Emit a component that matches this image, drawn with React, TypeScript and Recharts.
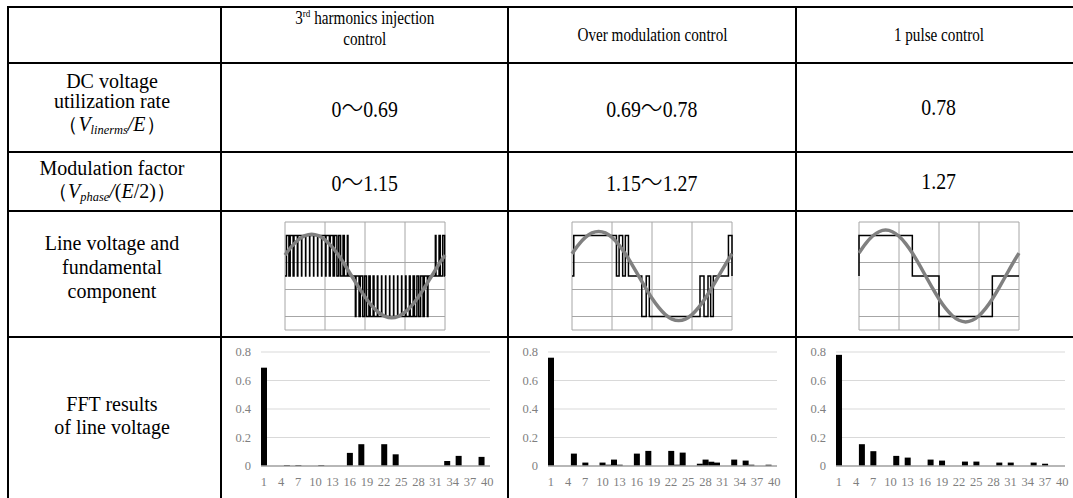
import React from 'react'
import { BarChart, Bar, LineChart, Line, XAxis, YAxis, CartesianGrid } from 'recharts'

const SERIF = '"Liberation Serif", "DejaVu Serif", "Times New Roman", Times, serif'
const CJK = '"Noto Sans CJK JP", "Noto Sans CJK SC", sans-serif'

// table texts
const DC_UTILIZATION = ['0～0.69', '0.69～0.78', '0.78']
const MODULATION_FACTOR = ['0～1.15', '1.15～1.27', '1.27']

// FFT: harmonic order 1..40
const HARMONIC_ORDERS = [
  1, 2, 3, 4, 5, 6, 7, 8, 9, 10,
  11, 12, 13, 14, 15, 16, 17, 18, 19, 20,
  21, 22, 23, 24, 25, 26, 27, 28, 29, 30,
  31, 32, 33, 34, 35, 36, 37, 38, 39, 40,
]
const FFT_THIRD = [
  0.69, 0, 0, 0, 0.007, 0, 0.007, 0, 0, 0,
  0.007, 0, 0, 0, 0, 0.092, 0, 0.153, 0, 0,
  0, 0.153, 0, 0.082, 0, 0, 0, 0, 0, 0,
  0, 0, 0.035, 0, 0.071, 0, 0, 0, 0.064, 0,
]
const FFT_OVERMOD = [
  0.76, 0, 0, 0, 0.087, 0, 0.024, 0, 0, 0.024,
  0.009, 0.045, 0.009, 0, 0, 0.087, 0, 0.106, 0, 0,
  0, 0.106, 0.009, 0.094, 0, 0, 0.016, 0.045, 0.03, 0.024,
  0, 0, 0.045, 0, 0.038, 0.009, 0, 0, 0.009, 0,
]
const FFT_ONE_PULSE = [
  0.78, 0, 0, 0, 0.153, 0, 0.104, 0, 0, 0,
  0.071, 0, 0.059, 0, 0, 0, 0.045, 0, 0.038, 0,
  0, 0, 0.031, 0, 0.031, 0, 0, 0, 0.024, 0,
  0.024, 0, 0, 0, 0.024, 0, 0.016, 0, 0, 0,
]
const FFT_TICKS = [0, 0.2, 0.4, 0.6, 0.8]

// waveforms: angle in degrees over one period
const ANGLE_TICKS = [0, 90, 180, 270, 360]
const LEVEL_TICKS = [-4, -3, -2, -1, 0, 1, 2, 3, 4]

// line voltage pulses [start, end, level]
const PULSES_THIRD = [
  [3.3, 8.8, 3], [11.7, 18.3, 3], [20.3, 27.8, 3], [28.9, 37.2, 3], [37.8, 46.3, 3],
  [46.8, 55.3, 3], [55.8, 64.3, 3], [64.8, 73.3, 3], [73.8, 82.3, 3], [82.9, 91.2, 3],
  [92.3, 99.8, 3], [101.7, 108.3, 3], [111.3, 116.8, 3], [120.9, 125.1, 3], [130.6, 133.5, 3],
  [140.3, 141.7, 3],
  [158.3, 159.7, -3], [166.6, 169.5, -3], [174.9, 179.1, -3], [183.3, 188.8, -3], [191.7, 198.3, -3],
  [200.3, 207.8, -3], [208.9, 217.2, -3], [217.8, 226.3, -3], [226.8, 235.3, -3], [235.8, 244.3, -3],
  [244.8, 253.3, -3], [253.8, 262.3, -3], [262.9, 271.2, -3], [272.3, 279.8, -3], [281.7, 288.3, -3],
  [291.3, 296.8, -3], [300.9, 305.1, -3], [310.6, 313.5, -3], [320.3, 321.7, -3],
  [338.3, 339.7, 3], [346.6, 349.5, 3], [354.9, 359.1, 3],
]
const PULSES_OVERMOD = [
  [4, 100, 3], [106, 114, 3], [120, 127, 3],
  [157, 167, -3], [174, 288, -3], [297, 306, -3], [312, 318, -3],
  [352, 360, 3],
]
const PULSES_ONE = [
  [0, 120, 3], [180, 300, -3],
]

// fundamental component, sampled every 15 deg
const SINE_ANGLES = [
  0, 15, 30, 45, 60, 75, 90, 105, 120, 135, 150, 165, 180,
  195, 210, 225, 240, 255, 270, 285, 300, 315, 330, 345, 360,
]
const SINE_THIRD = [
  1.55, 2.19, 2.68, 2.99, 3.1, 2.99, 2.68, 2.19, 1.55, 0.8, 0, -0.8, -1.55,
  -2.19, -2.68, -2.99, -3.1, -2.99, -2.68, -2.19, -1.55, -0.8, 0, 0.8, 1.55,
]
const SINE_OVERMOD = [
  1.65, 2.33, 2.86, 3.19, 3.3, 3.19, 2.86, 2.33, 1.65, 0.85, 0, -0.85, -1.65,
  -2.33, -2.86, -3.19, -3.3, -3.19, -2.86, -2.33, -1.65, -0.85, 0, 0.85, 1.65,
]
const SINE_ONE = [
  1.7, 2.4, 2.94, 3.28, 3.4, 3.28, 2.94, 2.4, 1.7, 0.88, 0, -0.88, -1.7,
  -2.4, -2.94, -3.28, -3.4, -3.28, -2.94, -2.4, -1.7, -0.88, 0, 0.88, 1.7,
]

// table geometry
const COLS = [8, 221, 508, 796, 1082]
const ROWS = [7, 63, 152, 211, 337, 495]

function toSteps(pulses: number[][]) {
  const pts = [{ t: 0, v: 0 }]
  pulses.forEach(([s, e, lvl]) => {
    pts.push({ t: s, v: 0 }, { t: s, v: lvl }, { t: e, v: lvl }, { t: e, v: 0 })
  })
  pts.push({ t: 360, v: 0 })
  return pts
}

function Cell({ col, row, children, lineHeight = 22, shift = 0, size = 20, squeeze = 1 }: any) {
  const left = COLS[col]
  const top = ROWS[row]
  return (
    <div
      style={{
        position: 'absolute',
        left,
        top,
        width: COLS[col + 1] - left,
        height: ROWS[row + 1] - top,
        display: 'flex',
        alignItems: 'center',
        justifyContent: 'center',
        textAlign: 'center',
        fontSize: size,
        lineHeight: `${lineHeight}px`,
        paddingBottom: shift,
        paddingRight: col === 0 ? 5 : 0,
        boxSizing: 'border-box',
        whiteSpace: 'nowrap',
      }}
    >
      <div style={{ transform: `scaleX(${squeeze})` }}>{children}</div>
    </div>
  )
}

// range text such as 0～0.69, the wave dash drawn from a CJK font
function Range({ text }: { text: string }) {
  const parts = text.split('～')
  if (parts.length === 1) return <>{text}</>
  return (
    <>
      {parts[0]}
      <span style={{ fontFamily: CJK, fontSize: '1.1em', fontWeight: 300 }}>～</span>
      {parts[1]}
    </>
  )
}

const subStyle: React.CSSProperties = { fontSize: '0.62em', fontStyle: 'italic', verticalAlign: '-0.25em', lineHeight: 0 }

function WaveChart({ pulses, sine, col }: any) {
  const steps = toSteps(pulses)
  const sineData = SINE_ANGLES.map((t, i) => ({ t, v: sine[i] }))
  const center = (COLS[col] + COLS[col + 1]) / 2
  return (
    <div style={{ position: 'absolute', left: Math.round(center - 80) - 2, top: 220 }}>
      <LineChart width={164} height={112} margin={{ top: 2, right: 2, bottom: 2, left: 2 }}>
        <CartesianGrid stroke="#a6a6a6" />
        <XAxis type="number" dataKey="t" domain={[0, 360]} ticks={ANGLE_TICKS} hide />
        <YAxis type="number" domain={[-4, 4]} ticks={LEVEL_TICKS} hide />
        <Line data={steps} dataKey="v" type="linear" stroke="#000" strokeWidth={1.5} dot={false} isAnimationActive={false} />
        <Line data={sineData} dataKey="v" type="monotone" stroke="#808080" strokeWidth={3.5} dot={false} isAnimationActive={false} />
      </LineChart>
    </div>
  )
}

function FftChart({ values, col }: any) {
  const data = HARMONIC_ORDERS.map((n, i) => ({ n, v: values[i] }))
  const tick = { fill: '#7f7f7f', fontSize: 12.5, fontFamily: SERIF }
  return (
    <div style={{ position: 'absolute', left: COLS[col], top: 340 }}>
      <BarChart width={287} height={160} data={data} margin={{ top: 12, right: 18, bottom: 4, left: 0 }} barCategoryGap={0}>
        <CartesianGrid vertical={false} stroke="#d9d9d9" />
        <XAxis dataKey="n" interval={2} tickLine={false} axisLine={{ stroke: '#a6a6a6', strokeWidth: 1.5 }} tick={tick} tickMargin={5} />
        <YAxis domain={[0, 0.8]} ticks={FFT_TICKS} width={40} tickLine={false} axisLine={false} tick={tick} tickMargin={4} />
        <Bar dataKey="v" fill="#000" isAnimationActive={false} />
      </BarChart>
    </div>
  )
}

export default function App() {
  return (
    <div
      style={{
        position: 'fixed',
        left: 0,
        top: 0,
        width: 1073,
        height: 498,
        overflow: 'hidden',
        background: '#fff',
        fontFamily: SERIF,
        color: '#000',
      }}
    >
      {ROWS.slice(0, 5).map((y) => (
        <div key={'h' + y} style={{ position: 'absolute', left: COLS[0] - 1, top: y - 1, width: COLS[4] - COLS[0] + 2, height: 2, background: '#000' }} />
      ))}
      {COLS.map((x) => (
        <div key={'v' + x} style={{ position: 'absolute', left: x - 1, top: ROWS[0] - 1, width: 2, height: 520, background: '#000' }} />
      ))}

      {/* header row */}
      <Cell col={1} row={0} size={18.5} squeeze={0.82} lineHeight={21} shift={12}>
        3<sup style={{ fontSize: '0.6em', lineHeight: 0 }}>rd</sup> harmonics injection
        <br />
        control
      </Cell>
      <Cell col={2} row={0} size={18.5} squeeze={0.82}>Over modulation control</Cell>
      <Cell col={3} row={0} size={18.5} squeeze={0.82}>1 pulse control</Cell>

      {/* DC voltage utilization rate */}
      <Cell col={0} row={1} lineHeight={20} shift={7}>
        DC voltage
        <br />
        utilization rate
        <br />
        <span style={{ lineHeight: '26px' }}>
          （<i>V</i>
          <span style={subStyle}>linerms</span>
          <i>/E</i>）
        </span>
      </Cell>
      {DC_UTILIZATION.map((s, i) => (
        <Cell key={'dc' + i} col={i + 1} row={1} size={22.5} squeeze={0.88}><Range text={s} /></Cell>
      ))}

      {/* modulation factor */}
      <Cell col={0} row={2} lineHeight={23} shift={4}>
        Modulation factor
        <br />
        （<i>V</i>
        <span style={subStyle}>phase</span>
        <i>/</i>(<i>E</i>/2)）
      </Cell>
      {MODULATION_FACTOR.map((s, i) => (
        <Cell key={'mf' + i} col={i + 1} row={2} size={22.5} squeeze={0.88}><Range text={s} /></Cell>
      ))}

      {/* waveforms */}
      <Cell col={0} row={3} lineHeight={24} shift={14}>
        Line voltage and
        <br />
        fundamental
        <br />
        component
      </Cell>
      <WaveChart col={1} pulses={PULSES_THIRD} sine={SINE_THIRD} />
      <WaveChart col={2} pulses={PULSES_OVERMOD} sine={SINE_OVERMOD} />
      <WaveChart col={3} pulses={PULSES_ONE} sine={SINE_ONE} />

      {/* FFT */}
      <Cell col={0} row={4} lineHeight={23}>
        FFT results
        <br />
        of line voltage
      </Cell>
      <FftChart col={1} values={FFT_THIRD} />
      <FftChart col={2} values={FFT_OVERMOD} />
      <FftChart col={3} values={FFT_ONE_PULSE} />
    </div>
  )
}
